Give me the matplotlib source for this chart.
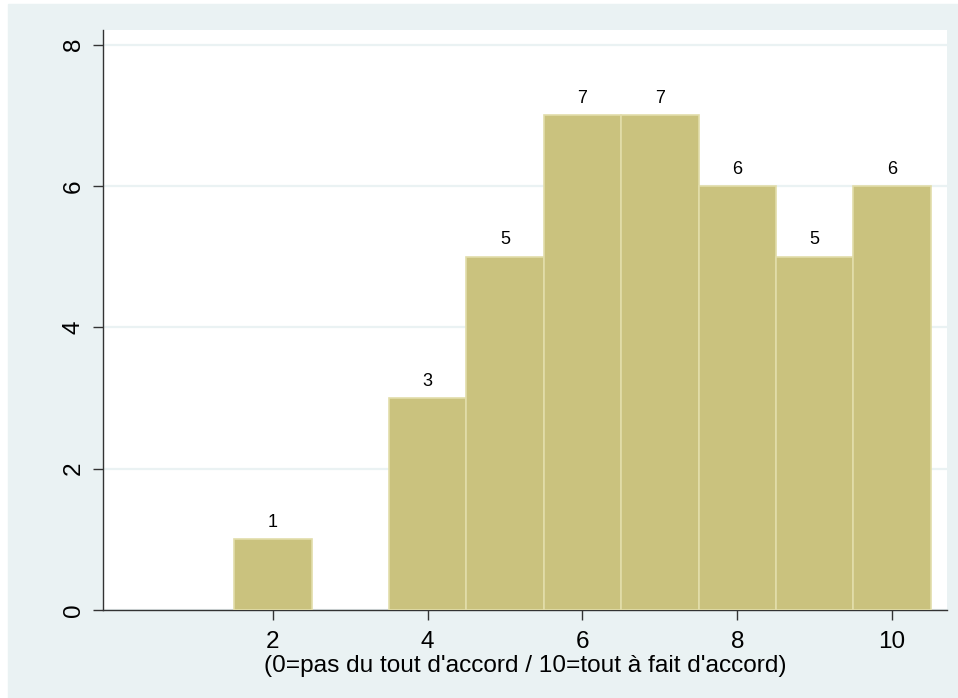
import matplotlib.pyplot as plt
from matplotlib.patches import Rectangle

plt.rcParams['font.family'] = ['Liberation Sans', 'DejaVu Sans']

# Distribution des réponses (échelle 0-10)
scores = [2, 4, 5, 6, 7, 8, 9, 10]
counts = [1, 3, 5, 7, 7, 6, 5, 6]
y_ticks = [0, 2, 4, 6, 8]
x_ticks = [2, 4, 6, 8, 10]
xlabel = "(0=pas du tout d'accord / 10=tout à fait d'accord)"

BAR_COLOR = "#CAC27E"
EDGE_COLOR = "#E2DDAA"
BG_COLOR = "#EAF2F3"

fig = plt.figure(figsize=(9.58, 6.98), dpi=100, facecolor="white")
# fond bleuté façon Stata (petite marge blanche en haut/gauche)
fig.patches.append(Rectangle((8 / 958, 0), 1 - 8 / 958, 1 - 4 / 698,
                             transform=fig.transFigure, color=BG_COLOR, zorder=-10))

ax = fig.add_axes([0.1075, 0.1261, 0.881, 0.831])
ax.set_facecolor("white")

ax.bar(scores, counts, width=1.0, color=BAR_COLOR, edgecolor=EDGE_COLOR,
       linewidth=1.2, zorder=3)
for xi, yi in zip(scores, counts):
    ax.annotate(str(yi), (xi, yi), textcoords="offset points", xytext=(0, 6),
                ha='center', va='bottom', fontsize=13, zorder=4)

ax.set_xlim(-0.196, 10.71)
ax.set_ylim(0, 8.21)
ax.set_xticks(x_ticks)
ax.set_yticks(y_ticks)
ax.set_yticklabels([str(t) for t in y_ticks], rotation=90, va='center')
ax.yaxis.grid(True, color=BG_COLOR, linewidth=1.6, zorder=1)
ax.set_axisbelow(True)
ax.tick_params(axis='both', labelsize=17.5, length=7, width=1, color="#333333")
ax.tick_params(axis='x', pad=8)
ax.tick_params(axis='y', pad=6)
ax.set_xlabel(xlabel, fontsize=17.6, labelpad=1.5)

for side in ("top", "right"):
    ax.spines[side].set_visible(False)
for side in ("left", "bottom"):
    ax.spines[side].set_color("#333333")
    ax.spines[side].set_linewidth(1.0)

fig.savefig("out.png", dpi=100, facecolor=fig.get_facecolor())
